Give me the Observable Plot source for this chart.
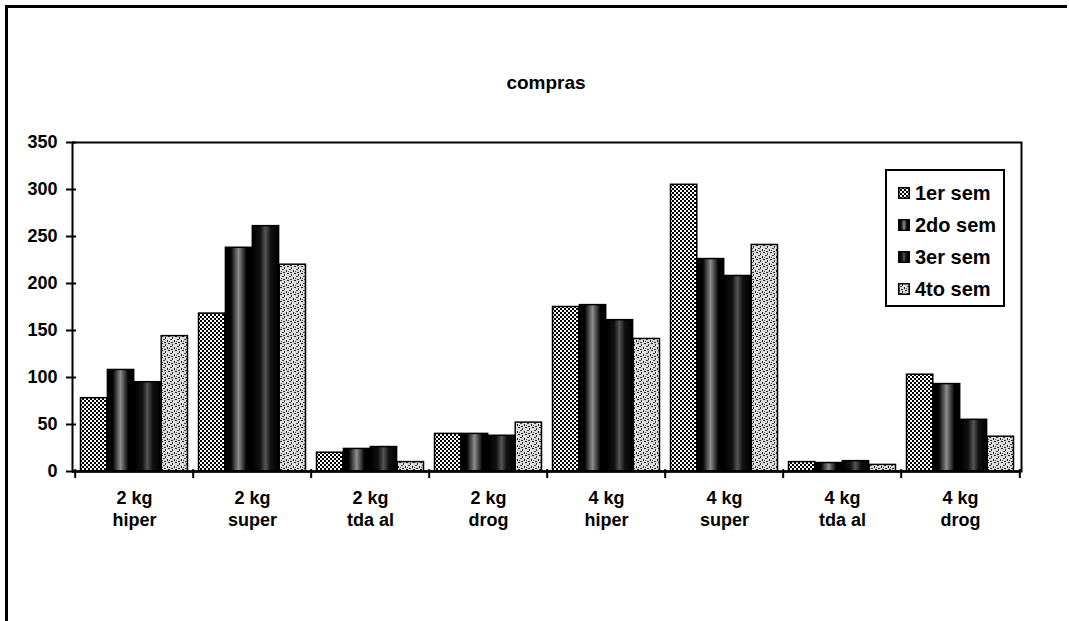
<!DOCTYPE html>
<html>
<head>
<meta charset="utf-8">
<script src="https://cdn.jsdelivr.net/npm/d3@7"></script>
<script src="https://cdn.jsdelivr.net/npm/@observablehq/plot@0.6"></script>
<style>
  html, body { margin: 0; background: #fff; overflow: hidden; }
  #wrap { position: relative; width: 1069px; height: 621px; overflow: hidden; background: #fff;
          font-family: "Liberation Sans", Arial, sans-serif; }
  #wrap svg.plot { position: absolute; left: 0; top: 0; }
  #outline { position: absolute; left: 0; top: 0; pointer-events: none; }
  #title { position: absolute; left: 446px; width: 200px; top: 73px; text-align: center;
           font-size: 19px; line-height: 19px; font-weight: bold; color: #000; }
  #legend { position: absolute; left: 885px; top: 169px; width: 120px; height: 138px;
            border: 2px solid #000; box-sizing: border-box; background: #fff; padding-top: 6px; }
  .row { display: flex; align-items: center; height: 32px; padding-left: 11px;
         font-size: 20px; font-weight: bold; color: #000; white-space: nowrap; }
  .row svg { margin-right: 5px; flex: none; }
</style>
</head>
<body>
<svg width="0" height="0" style="position:absolute">
  <defs>
    <pattern id="p1" width="4" height="4" patternUnits="userSpaceOnUse">
      <rect width="4" height="4" fill="#fff"/>
      <rect width="2" height="2" fill="#000"/>
      <rect x="2" y="2" width="2" height="2" fill="#000"/>
    </pattern>
    <linearGradient id="p2" x1="0" x2="1" y1="0" y2="0">
      <stop offset="0" stop-color="#000"/>
      <stop offset="0.2" stop-color="#000"/>
      <stop offset="0.5" stop-color="#8c8c8c"/>
      <stop offset="0.8" stop-color="#000"/>
      <stop offset="1" stop-color="#000"/>
    </linearGradient>
    <linearGradient id="p3" x1="0" x2="1" y1="0" y2="0">
      <stop offset="0" stop-color="#000"/>
      <stop offset="0.3" stop-color="#111"/>
      <stop offset="0.5" stop-color="#555"/>
      <stop offset="0.7" stop-color="#111"/>
      <stop offset="1" stop-color="#000"/>
    </linearGradient>
    <pattern id="p4" width="7" height="7" patternUnits="userSpaceOnUse">
      <rect width="7" height="7" fill="#d9d9d9"/>
      <rect x="0" y="0" width="2" height="1" fill="#222"/>
      <rect x="4" y="1" width="1" height="2" fill="#333"/>
      <rect x="2" y="3" width="2" height="1" fill="#444"/>
      <rect x="6" y="4" width="1" height="2" fill="#222"/>
      <rect x="1" y="5" width="1" height="1" fill="#555"/>
      <rect x="3" y="6" width="2" height="1" fill="#333"/>
      <rect x="5" y="2" width="1" height="1" fill="#fff"/>
      <rect x="0" y="3" width="1" height="1" fill="#fff"/>
    </pattern>
  </defs>
</svg>
<div id="wrap"></div>
<script>
// ---- data ----
const groups = ["2 kg\nhiper", "2 kg\nsuper", "2 kg\ntda al", "2 kg\ndrog",
                "4 kg\nhiper", "4 kg\nsuper", "4 kg\ntda al", "4 kg\ndrog"];
const series = ["1er sem", "2do sem", "3er sem", "4to sem"];
const sem1 = [78, 168, 20, 40, 175, 305, 10, 103];
const sem2 = [108, 238, 24, 40, 177, 226, 9, 93];
const sem3 = [95, 261, 26, 38, 161, 208, 11, 55];
const sem4 = [144, 220, 10, 52, 141, 241, 7, 37];
const yTicks = [0, 50, 100, 150, 200, 250, 300, 350];
const fills = ["url(#p1)", "url(#p2)", "url(#p3)", "url(#p4)"];

const valuesBySeries = [sem1, sem2, sem3, sem4];
const data = [];
series.forEach((s, si) => groups.forEach((g, gi) => data.push({group: g, series: s, value: valuesBySeries[si][gi]})));

// ---- layout ----
const W = 1069, H = 621, mL = 72, mR = 48, mT = 142, mB = 150;
const step = (W - mL - mR) / groups.length;
const pad = 5.5;
const bw = (step - 2 * pad) / series.length;

const marks = [];
series.forEach((s, i) => {
  marks.push(Plot.barY(data.filter(d => d.series === s), {
    x: "group", y: "value", fill: fills[i], stroke: "#000", strokeWidth: 1.5,
    insetLeft: pad + i * bw, insetRight: step - pad - (i + 1) * bw
  }));
});
marks.push(Plot.frame({stroke: "#000", strokeWidth: 2}));
marks.push(Plot.ruleY([0], {stroke: "#000", strokeWidth: 2.5}));
marks.push(Plot.ruleX(groups, {x: d => d, y1: 2, y2: -7.5, dx: -step / 2, stroke: "#000", strokeWidth: 2}));
marks.push(Plot.ruleX([groups[groups.length - 1]], {x: d => d, y1: 2, y2: -7.5, dx: step / 2, stroke: "#000", strokeWidth: 2}));
marks.push(Plot.axisY({ticks: yTicks, tickSize: 10, dx: 4, tickFormat: () => "", strokeWidth: 2, label: null}));
marks.push(Plot.axisY({ticks: yTicks, tickSize: 0, tickPadding: 15, fontSize: 18, fontWeight: "bold", fill: "#000", label: null}));
marks.push(Plot.axisX({tickSize: 0, tickPadding: 17, fontSize: 18, fontWeight: "bold", fill: "#000", lineHeight: 1.22, label: null}));

const chart = Plot.plot({
  width: W, height: H,
  marginLeft: mL, marginRight: mR, marginTop: mT, marginBottom: mB,
  style: {fontFamily: "'Liberation Sans', Arial, sans-serif", color: "#000", background: "transparent"},
  x: {type: "band", domain: groups, padding: 0, label: null},
  y: {domain: [0, 350], label: null},
  marks
});

const wrap = document.getElementById("wrap");
wrap.appendChild(chart);

const title = document.createElement("div");
title.id = "title";
title.textContent = "compras";
wrap.appendChild(title);

const legend = document.createElement("div");
legend.id = "legend";
series.forEach((s, i) => {
  const row = document.createElement("div");
  row.className = "row";
  row.innerHTML = `<svg width="12" height="12"><rect x="0.75" y="0.75" width="10.5" height="10.5" fill="${fills[i]}" stroke="#000" stroke-width="1.5"/></svg><span>${s}</span>`;
  legend.appendChild(row);
});
wrap.appendChild(legend);

const ns = "http://www.w3.org/2000/svg";
const outline = document.createElementNS(ns, "svg");
outline.setAttribute("id", "outline");
outline.setAttribute("width", W);
outline.setAttribute("height", H);
const path = document.createElementNS(ns, "path");
path.setAttribute("d", `M6.5,${H} V6.5 H${W - 2}`);
path.setAttribute("fill", "none");
path.setAttribute("stroke", "#000");
path.setAttribute("stroke-width", "3");
outline.appendChild(path);
wrap.appendChild(outline);
</script>
</body>
</html>
